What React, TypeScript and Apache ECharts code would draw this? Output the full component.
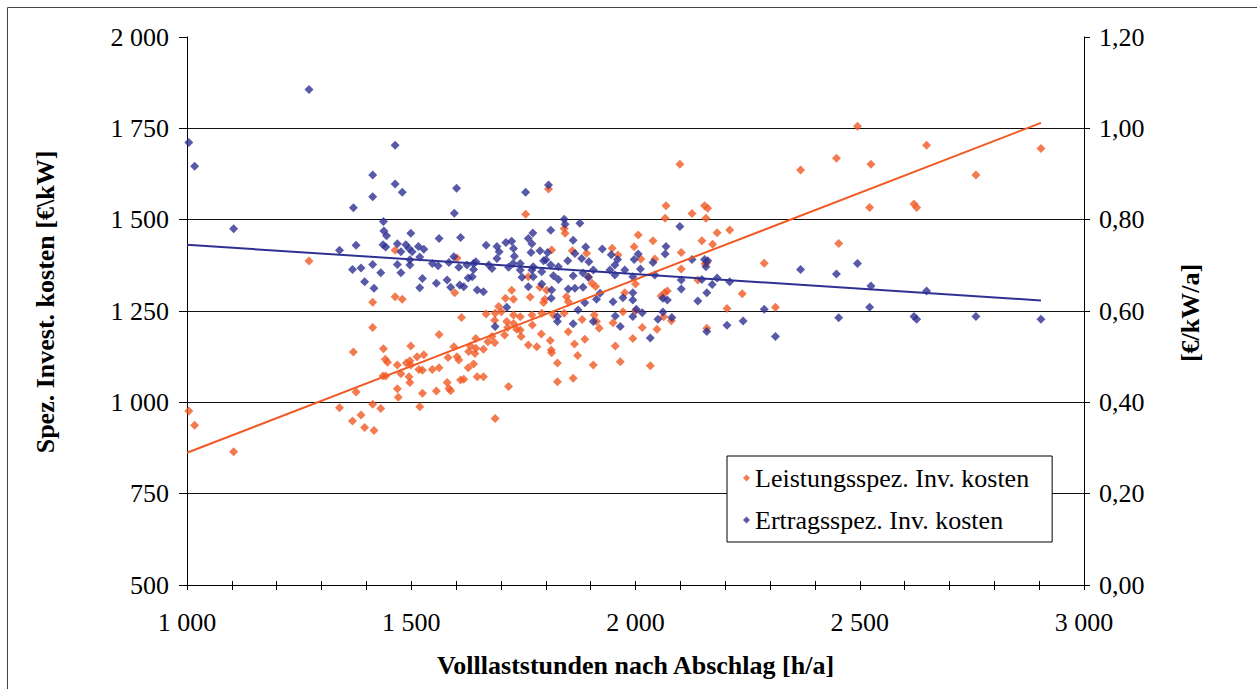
import React, { useEffect, useRef } from "react";
import * as echarts from "echarts";

// Volllaststunden [h/a] vs. leistungsspezifische Investitionskosten [€/kW]
const leistungPoints: [number, number][] = [
  [1004, 976], [1017, 937], [1104, 865], [1414, 1274], [1464, 1289], [1414, 1205], [1371, 1138],
  [1438, 1147], [1442, 1118], [1447, 1110], [1469, 1102], [1437, 1072], [1443, 1072], [1469, 1037],
  [1377, 1028], [1471, 1014], [1340, 985], [1414, 995], [1432, 983], [1388, 965], [1369, 949],
  [1396, 931], [1417, 923], [1272, 1387], [1464, 1416], [1480, 1282], [1597, 1300], [1612, 1232],
  [1667, 1242], [1687, 1244], [1695, 1262], [1701, 1248], [1710, 1285], [1724, 1307], [1728, 1239],
  [1713, 1221], [1686, 1225], [1602, 1395], [1562, 1186], [1499, 1154], [1489, 1108], [1497, 1114],
  [1499, 1102], [1513, 1125], [1528, 1130], [1517, 1090], [1525, 1088], [1547, 1090], [1562, 1095],
  [1477, 1078], [1495, 1070], [1497, 1054], [1525, 1025], [1519, 988], [1556, 1031], [1580, 1054],
  [1584, 1038], [1588, 1032], [1582, 1123], [1595, 1152], [1602, 1125], [1606, 1116], [1610, 1061],
  [1617, 1063], [1627, 1095], [1639, 1105], [1628, 1139], [1642, 1134], [1644, 1148], [1632, 1154],
  [1644, 1175], [1661, 1145], [1647, 1070], [1661, 1070], [1671, 1166], [1680, 1180], [1686, 1163],
  [1708, 1184], [1715, 1205], [1735, 1200], [1717, 1043], [1687, 956], [1806, 1584], [1755, 1515],
  [1841, 1476], [1843, 1463], [2006, 1458], [1859, 1415], [1813, 1417], [1891, 1408], [1948, 1422],
  [1961, 1403], [1997, 1426], [1761, 1344], [1728, 1282], [1765, 1288], [1787, 1315], [1802, 1307],
  [1798, 1282], [1795, 1273], [1846, 1289], [1850, 1275], [1903, 1326], [1911, 1317], [1895, 1344],
  [1976, 1300], [2000, 1324], [1972, 1248], [2000, 1251], [1743, 1234], [1769, 1239], [1791, 1244],
  [1817, 1239], [1841, 1244], [1908, 1239], [1728, 1216], [1770, 1212], [1743, 1198], [1745, 1180],
  [1790, 1187], [1761, 1157], [1780, 1152], [1810, 1169], [1812, 1143], [1813, 1136], [1826, 1108],
  [1826, 1056], [1850, 1193], [1864, 1160], [1871, 1128], [1881, 1227], [1887, 1173], [1861, 1066],
  [1906, 1102], [1913, 1221], [1919, 1203], [1950, 1218], [1955, 1154], [1966, 1111], [1994, 1175],
  [2033, 1100], [2099, 1652], [2068, 1538], [2066, 1504], [2126, 1517], [2154, 1538], [2161, 1531],
  [2157, 1504], [2039, 1442], [2182, 1464], [2210, 1472], [2148, 1442], [2172, 1433], [2102, 1410],
  [2043, 1392], [2012, 1392], [2102, 1365], [2139, 1335], [2155, 1379], [2159, 1382], [2065, 1300],
  [2071, 1305], [2057, 1291], [2238, 1297], [2063, 1234], [2080, 1223], [2204, 1257], [2015, 1205],
  [2048, 1200], [2159, 1203], [2495, 1756], [2649, 1704], [2904, 1695], [2448, 1668], [2525, 1652],
  [2368, 1636], [2759, 1622], [2522, 1533], [2621, 1543], [2627, 1533], [2453, 1435], [2287, 1381],
  [2312, 1260],
];

// Volllaststunden [h/a] vs. ertragsspezifische Investitionskosten [€/kW/a]
const ertragPoints: [number, number][] = [
  [1272, 1.085], [1004, 0.969], [1017, 0.917], [1464, 0.963], [1414, 0.898], [1464, 0.878], [1414, 0.85],
  [1371, 0.826], [1104, 0.78], [1438, 0.796], [1439, 0.775], [1445, 0.765], [1437, 0.745], [1443, 0.74],
  [1469, 0.747], [1377, 0.744], [1340, 0.733], [1469, 0.702], [1414, 0.702], [1369, 0.691], [1388, 0.694],
  [1432, 0.684], [1396, 0.664], [1417, 0.65], [1480, 0.86], [1601, 0.869], [1596, 0.814], [1499, 0.77],
  [1562, 0.759], [1610, 0.761], [1667, 0.744], [1488, 0.745], [1477, 0.73], [1495, 0.737], [1502, 0.73],
  [1516, 0.741], [1528, 0.735], [1519, 0.718], [1497, 0.712], [1497, 0.701], [1477, 0.684], [1547, 0.704],
  [1560, 0.699], [1584, 0.706], [1595, 0.719], [1606, 0.696], [1624, 0.701], [1639, 0.704], [1644, 0.708],
  [1639, 0.691], [1636, 0.675], [1627, 0.672], [1673, 0.701], [1680, 0.693], [1691, 0.741], [1696, 0.73],
  [1691, 0.715], [1711, 0.75], [1724, 0.753], [1717, 0.696], [1525, 0.671], [1519, 0.651], [1556, 0.661],
  [1580, 0.668], [1588, 0.652], [1608, 0.657], [1617, 0.653], [1647, 0.646], [1661, 0.642], [1713, 0.608],
  [1687, 0.566], [1730, 0.72], [1727, 0.704], [1806, 0.876], [1755, 0.86], [1841, 0.801], [1843, 0.79],
  [1876, 0.792], [1771, 0.771], [1811, 0.777], [1761, 0.759], [1769, 0.747], [1861, 0.755], [1728, 0.737],
  [1787, 0.732], [1804, 0.728], [1800, 0.712], [1767, 0.728], [1865, 0.726], [1889, 0.74], [1880, 0.715],
  [1926, 0.736], [1946, 0.723], [1960, 0.713], [1954, 0.701], [1743, 0.704], [1772, 0.697], [1795, 0.71],
  [1811, 0.701], [1828, 0.697], [1849, 0.71], [1896, 0.708], [1906, 0.69], [1743, 0.69], [1769, 0.69],
  [1791, 0.686], [1817, 0.677], [1828, 0.669], [1861, 0.677], [1747, 0.674], [1772, 0.675], [1883, 0.683],
  [1895, 0.674], [1976, 0.69], [1943, 0.69], [1954, 0.679], [1761, 0.653], [1791, 0.659], [1813, 0.646],
  [1850, 0.648], [1865, 0.65], [1883, 0.652], [1921, 0.639], [1812, 0.628], [1994, 0.64], [1972, 0.629],
  [1994, 0.624], [1950, 0.62], [1887, 0.618], [1913, 0.626], [1872, 0.602], [1826, 0.588], [1955, 0.589],
  [2002, 0.604], [1826, 0.577], [1861, 0.572], [1906, 0.577], [1966, 0.566], [2033, 0.541], [2099, 0.785],
  [2068, 0.741], [2066, 0.725], [2006, 0.725], [1997, 0.713], [2039, 0.706], [2011, 0.692], [2126, 0.713],
  [2154, 0.713], [2161, 0.71], [2157, 0.697], [2043, 0.679], [1994, 0.675], [2102, 0.668], [2148, 0.669],
  [2182, 0.672], [2171, 0.658], [2210, 0.664], [2102, 0.648], [2061, 0.628], [2071, 0.624], [2159, 0.64],
  [2139, 0.622], [2015, 0.596], [2061, 0.598], [2050, 0.582], [2081, 0.586], [2204, 0.569], [2240, 0.578],
  [1994, 0.588], [2159, 0.555], [2368, 0.691], [2448, 0.681], [2495, 0.704], [2525, 0.655], [2649, 0.644],
  [2287, 0.604], [2522, 0.608], [2453, 0.585], [2621, 0.588], [2627, 0.582], [2759, 0.588], [2904, 0.582],
  [2312, 0.544],
];

// Linear trend lines (start and end of each)
const leistungTrend: [number, number][] = [[1000, 862], [2904, 1765]];
const ertragTrend: [number, number][] = [[1000, 0.745], [2904, 0.623]];

const seriesNames = ["Leistungsspez. Inv. kosten", "Ertragsspez. Inv. kosten"];
const xTicks = { min: 1000, max: 3000, step: 100, labelStep: 500 };
const yLeftTicks = { min: 500, max: 2000, step: 250 };
const yRightTicks = { min: 0, max: 1.2, step: 0.2 };

const ORANGE = "#F15A24";
const BLUE = "#2E3192";
const FONT = "'Liberation Serif', 'Times New Roman', serif";

const withSpace = (v: number) => {
  const s = String(Math.round(v));
  return s.length > 3 ? s.slice(0, -3) + " " + s.slice(-3) : s;
};

export default function App() {
  const ref = useRef<HTMLDivElement>(null);

  useEffect(() => {
    if (!ref.current) return;
    const chart = echarts.init(ref.current, null, { renderer: "svg" });
    const labelStyle = { color: "#000", fontFamily: FONT, fontSize: 26 };
    const axisLine = { show: true, lineStyle: { color: "#000", width: 1 } };

    chart.setOption({
      animation: false,
      backgroundColor: "#fff",
      grid: { left: 187, right: 173, top: 37, bottom: 104, containLabel: false },
      graphic: [
        {
          type: "rect",
          z: -10,
          silent: true,
          shape: { x: 7.5, y: 7.5, width: 1400, height: 900 },
          style: { fill: "none", stroke: "#444", lineWidth: 1 },
        },
        {
          type: "text",
          x: 45,
          y: 302,
          rotation: Math.PI / 2,
          style: {
            text: "Spez. Invest. kosten [€\\kW]",
            font: `bold 26px ${FONT}`,
            fill: "#000",
            align: "center",
            verticalAlign: "middle",
            textAlign: "center",
            textVerticalAlign: "middle",
          },
        },
        {
          type: "text",
          x: 1190,
          y: 313,
          rotation: Math.PI / 2,
          style: {
            text: "[€/kW/a]",
            font: `bold 26px ${FONT}`,
            fill: "#000",
            align: "center",
            verticalAlign: "middle",
            textAlign: "center",
            textVerticalAlign: "middle",
          },
        },
      ],
      legend: {
        data: seriesNames.map((name) => ({ name, icon: "diamond" })),
        orient: "vertical",
        left: 727,
        top: 456,
        itemWidth: 7,
        itemHeight: 7,
        itemGap: 14,
        padding: [8, 23, 8, 16],
        backgroundColor: "#fff",
        borderColor: "#000",
        borderWidth: 1,
        borderRadius: 0,
        textStyle: { ...labelStyle, lineHeight: 28 },
      },
      xAxis: [
        {
          type: "value",
          min: xTicks.min,
          max: xTicks.max,
          interval: xTicks.step,
          position: "bottom",
          name: "Volllaststunden nach Abschlag [h/a]",
          nameLocation: "middle",
          nameGap: 67,
          nameTextStyle: { ...labelStyle, fontWeight: "bold" },
          axisLine,
          axisTick: { show: true, length: 5, lineStyle: { color: "#000" } },
          axisLabel: {
            ...labelStyle,
            margin: 24,
            interval: 0,
            formatter: (v: number) => (v % xTicks.labelStep === 0 ? withSpace(v) : ""),
          },
          splitLine: { show: false },
        },
        {
          type: "value",
          min: xTicks.min,
          max: xTicks.max,
          interval: xTicks.step,
          position: "bottom",
          axisLine: { show: false },
          axisTick: { show: true, inside: true, length: 4, lineStyle: { color: "#000" } },
          axisLabel: { show: false },
          splitLine: { show: false },
        },
      ],
      yAxis: [
        {
          type: "value",
          min: yLeftTicks.min,
          max: yLeftTicks.max,
          interval: yLeftTicks.step,
          position: "left",
          axisLine,
          axisTick: { show: true, length: 8, lineStyle: { color: "#000" } },
          axisLabel: { ...labelStyle, margin: 18, formatter: (v: number) => withSpace(v) },
          splitLine: { show: true, showMaxLine: false, lineStyle: { color: "#111", width: 1 } },
        },
        {
          type: "value",
          min: yRightTicks.min,
          max: yRightTicks.max,
          interval: yRightTicks.step,
          position: "right",
          axisLine,
          axisTick: { show: true, length: 6, lineStyle: { color: "#000" } },
          axisLabel: {
            ...labelStyle,
            margin: 15,
            formatter: (v: number) => v.toFixed(2).replace(".", ","),
          },
          splitLine: { show: false },
        },
      ],
      series: [
        {
          name: seriesNames[0],
          type: "scatter",
          xAxisIndex: 0,
          yAxisIndex: 0,
          symbol: "diamond",
          symbolSize: 9,
          itemStyle: { color: ORANGE },
          data: leistungPoints,
        },
        {
          name: seriesNames[1],
          type: "scatter",
          xAxisIndex: 0,
          yAxisIndex: 1,
          symbol: "diamond",
          symbolSize: 9,
          itemStyle: { color: BLUE },
          data: ertragPoints,
        },
        {
          name: "Trend Leistung",
          type: "line",
          xAxisIndex: 0,
          yAxisIndex: 0,
          showSymbol: false,
          lineStyle: { color: ORANGE, width: 2 },
          itemStyle: { color: ORANGE },
          data: leistungTrend,
        },
        {
          name: "Trend Ertrag",
          type: "line",
          xAxisIndex: 0,
          yAxisIndex: 1,
          showSymbol: false,
          lineStyle: { color: BLUE, width: 2 },
          itemStyle: { color: BLUE },
          data: ertragTrend,
        },
      ],
    });

    return () => chart.dispose();
  }, []);

  return (
    <div
      ref={ref}
      style={{ position: "fixed", left: 0, top: 0, width: 1257, height: 689, background: "#fff" }}
    />
  );
}
